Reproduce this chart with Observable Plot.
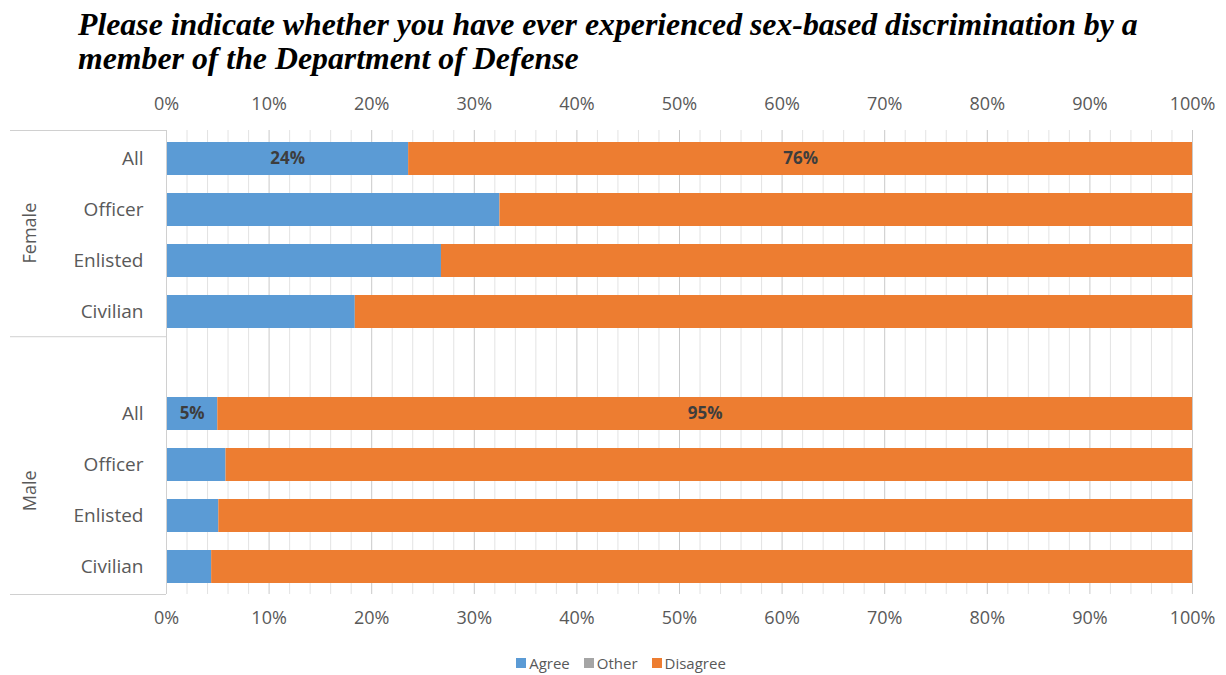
<!DOCTYPE html>
<html>
<head>
<meta charset="utf-8">
<script src="https://cdn.jsdelivr.net/npm/d3@7"></script>
<script src="https://cdn.jsdelivr.net/npm/@observablehq/plot@0.6"></script>
<style>
  html, body { margin: 0; padding: 0; background: #fff; }
  #wrap { position: relative; width: 1226px; height: 675px; overflow: hidden; }
  #title { position: absolute; left: 78px; top: 8px; font-family: "Liberation Serif", "Times New Roman", serif;
           font-weight: bold; font-style: italic; font-size: 31.8px; line-height: 34px; color: #000; white-space: nowrap; }
  #chart { position: absolute; left: 0; top: 90px; }
  #legend { position: absolute; left: 0; top: 653px; width: 1226px; display: flex; justify-content: center;
            font-family: "Open Sans", sans-serif; font-size: 15px; color: #595959; padding-left: 16px; box-sizing: border-box; }
  #legend span.item { display: inline-flex; align-items: center; margin: 0 7px; }
  #legend span.sw { display: inline-block; width: 10px; height: 10px; margin-right: 3px; }
</style>
</head>
<body>
<div id="wrap">
  <div id="title">Please indicate whether you have ever experienced sex-based discrimination by a<br>member of the Department of Defense</div>
  <div id="chart"></div>
  <div id="legend"></div>
</div>
<script>
const groups = ["Female", "Male"];
const categories = ["All", "Officer", "Enlisted", "Civilian"];
const agree    = [23.6, 32.5, 26.8, 18.4, 5.0, 5.8, 5.1, 4.4];
const other    = [0, 0, 0, 0, 0, 0, 0, 0];
const disagree = [76.4, 67.5, 73.2, 81.6, 95.0, 94.2, 94.9, 95.6];
const responses = ["Agree", "Other", "Disagree"];
const colors = ["#5B9BD5", "#A5A5A5", "#ED7D31"];
const xTicks = [0, 10, 20, 30, 40, 50, 60, 70, 80, 90, 100];
const minorTicks = d3.range(0, 101, 2);

const seriesByResponse = {Agree: agree, Other: other, Disagree: disagree};
const rowKey = (g, c) => g + "|" + c;
const rowDomain = [
  ...categories.map(c => rowKey(groups[0], c)),
  "gap",
  ...categories.map(c => rowKey(groups[1], c))
];

const data = [];
groups.forEach((g, gi) => {
  categories.forEach((c, ci) => {
    const idx = gi * categories.length + ci;
    responses.forEach(r => {
      data.push({row: rowKey(g, c), group: g, category: c, response: r, value: seriesByResponse[r][idx]});
    });
  });
});

const W = 1226, H = 550;
const mTop = 40, mBottom = 46, mLeft = 166, mRight = 34;
const font = "'Open Sans', sans-serif";
const axisColor = "#595959";

const plot = Plot.plot({
  width: W, height: H,
  marginTop: mTop, marginBottom: mBottom, marginLeft: mLeft, marginRight: mRight,
  style: {fontFamily: font, fontSize: "18px", color: axisColor, background: "#fff"},
  x: {domain: [0, 100], label: null},
  y: {domain: rowDomain, paddingInner: 0.36, paddingOuter: 0.18, label: null},
  color: {domain: responses, range: colors},
  marks: [
    Plot.ruleX(minorTicks.filter(t => t % 10 !== 0), {stroke: "#e3e3e3", strokeWidth: 1}),
    Plot.ruleX(xTicks, {stroke: "#c9c9c9", strokeWidth: 1}),
    Plot.barX(data, Plot.stackX({x: "value", y: "row", fill: "response", z: "response"})),
    Plot.text(data, Plot.stackX({
      x: "value", y: "row", z: "response",
      text: d => (d.category === "All" && d.value > 0) ? Math.round(d.value) + "%" : null,
      fill: "#3d3d3d", fontWeight: "bold", fontSize: 17
    })),
    Plot.axisX(xTicks, {anchor: "top", label: null, tickSize: 0, tickPadding: 21, tickFormat: d => d + "%", fontSize: 18}),
    Plot.axisX(xTicks, {anchor: "bottom", label: null, tickSize: 0, tickPadding: 17, tickFormat: d => d + "%", fontSize: 18}),
    Plot.axisY({anchor: "left", label: null, tickSize: 0, tickPadding: 23, fontSize: 19,
      tickFormat: d => d === "gap" ? "" : d.split("|")[1]})
  ]
});

document.getElementById("chart").appendChild(plot);

// Decorative grouping box on the left, positioned via the same band layout
const yBand = d3.scaleBand().domain(rowDomain).range([mTop, H - mBottom]).paddingInner(0.36).paddingOuter(0.18);
const step = yBand.step();
const yTop = mTop, yBottom = H - mBottom;
const svg = d3.select(plot);
const boundary = yTop + step * categories.length;
const box = svg.append("g").attr("stroke", "#d0d0d0").attr("stroke-width", 1);
[yTop, boundary, yBottom].forEach(yy => {
  box.append("line").attr("x1", 10).attr("x2", mLeft).attr("y1", yy + 0.5).attr("y2", yy + 0.5);
});
box.append("line").attr("x1", mLeft + 0.5).attr("x2", mLeft + 0.5).attr("y1", yTop).attr("y2", yBottom);

const groupCenters = [(yTop + boundary) / 2, (boundary + step + yBottom) / 2];
groups.forEach((name, i) => {
  svg.append("text")
    .attr("transform", `translate(30,${groupCenters[i]}) rotate(-90)`)
    .attr("text-anchor", "middle").attr("dy", "0.35em")
    .attr("fill", axisColor).attr("font-size", 18).attr("font-family", font)
    .text(name);
});

// Legend
const legend = document.getElementById("legend");
responses.forEach((r, i) => {
  const item = document.createElement("span");
  item.className = "item";
  item.innerHTML = `<span class="sw" style="background:${colors[i]}"></span>${r}`;
  legend.appendChild(item);
});
</script>
</body>
</html>
